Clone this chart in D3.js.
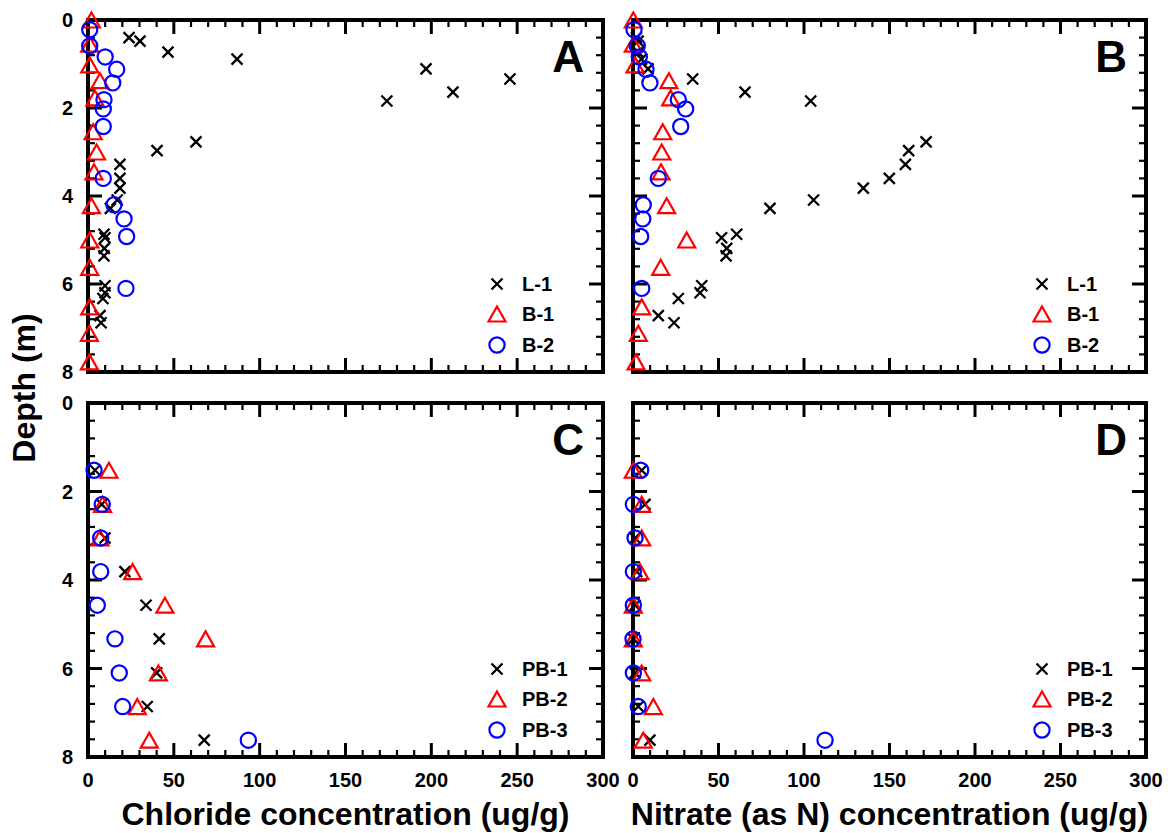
<!DOCTYPE html>
<html><head><meta charset="utf-8">
<script src="https://cdn.jsdelivr.net/npm/d3@7"></script>
<style>
body{margin:0;background:#fff}
svg{display:block}
text{font-family:"Liberation Sans",Arial,Helvetica,sans-serif;font-weight:bold;fill:#000}
</style>
</head><body>
<svg id="chart" width="1168" height="833"></svg>
<script>
// ---------- data ----------
const xTickLabels = [0, 50, 100, 150, 200, 250, 300];
const yTickLabels = [0, 2, 4, 6, 8];

// Upper panels (A: chloride, B: nitrate)
const depthL1 = [0.40,0.48,0.73,0.89,1.11,1.34,1.64,1.84,2.77,2.97,3.28,3.60,3.82,4.09,4.28,4.87,4.95,5.19,5.36,6.04,6.20,6.33,6.72,6.88];
const chlorideL1 = [23.9,30.3,46.6,86.8,196.9,245.8,212.6,174.1,62.9,40.2,18.6,18.6,18.6,17,13,9.3,9.9,9.5,9.3,9.9,9.9,8.7,7,7.6];
const nitrateL1  = [2,3,3,5,8.8,34.9,65.5,103.9,171.4,161.2,159.3,149.9,134.7,105.6,80.1,60.6,51.8,54.8,54.4,40.2,39.2,26.5,14.8,24];

const depthB1 = [0,0.55,1.02,1.38,1.77,2.54,3.0,3.45,4.22,5.0,5.62,6.52,7.12,7.77];
const chlorideB1 = [2,1,1,7,4,3,5,3.5,2,1,1,1,0.8,0.8];
const nitrateB1  = [0.2,0.2,1.2,21,22,17.4,16.8,16.4,19.7,31.4,16.2,5.1,3.1,1.8];

const depthB2 = [0.22,0.59,0.84,1.12,1.43,1.81,2.02,2.42,3.6,4.2,4.52,4.92,6.1];
const chlorideB2 = [1,1,10,16.7,14.4,9.3,8.9,8.9,8.9,15.1,21,22.5,22.1];
const nitrateB2  = [0.6,2.5,3.7,7.6,9.9,26.5,30.8,27.9,14.8,6,5.7,4.5,5.1];

// Lower panels (C: chloride, D: nitrate)
const depthPB = [1.52,2.29,3.05,3.81,4.57,5.33,6.10,6.86,7.62];
const chloridePB1 = [4.1,8,9.9,21.5,33.8,41.5,40,34.5,67.7];
const chloridePB2 = [12.2,8.5,7,26,44.8,68.5,41,28.7,35.7];
const chloridePB3 = [3.5,8.3,7.4,7.4,5.4,15.7,18.2,20.2,93.4];
const nitratePB1 = [5.1,7,1.2,2.2,1.2,0.2,1.2,3.1,9.9];
const nitratePB2 = [0.2,5.1,5.1,4.1,0.2,0.2,5.1,11.9,6];
const nitratePB3 = [4.5,0.2,1.2,0.2,0.2,0,0.2,3.1,112.3];

// ---------- styles ----------
const styles = {
  cross: {color: "#000000"},
  tri:   {color: "#ff0000"},
  circ:  {color: "#0000ff"}
};

const zip = (d, v) => d.map((dd, i) => ({depth: dd, value: v[i]}));

const panels = [
  {letter:"A", left:88,  right:603,  top:20,  bottom:372, showY:true,  showX:false,
   series:[{name:"L-1",shape:"cross",data:zip(depthL1,chlorideL1)},
           {name:"B-1",shape:"tri",data:zip(depthB1,chlorideB1)},
           {name:"B-2",shape:"circ",data:zip(depthB2,chlorideB2)}]},
  {letter:"B", left:633, right:1146, top:20,  bottom:372, showY:false, showX:false,
   series:[{name:"L-1",shape:"cross",data:zip(depthL1,nitrateL1)},
           {name:"B-1",shape:"tri",data:zip(depthB1,nitrateB1)},
           {name:"B-2",shape:"circ",data:zip(depthB2,nitrateB2)}]},
  {letter:"C", left:88,  right:603,  top:403, bottom:757, showY:true,  showX:true,
   series:[{name:"PB-1",shape:"cross",data:zip(depthPB,chloridePB1)},
           {name:"PB-2",shape:"tri",data:zip(depthPB,chloridePB2)},
           {name:"PB-3",shape:"circ",data:zip(depthPB,chloridePB3)}]},
  {letter:"D", left:633, right:1146, top:403, bottom:757, showY:false, showX:true,
   series:[{name:"PB-1",shape:"cross",data:zip(depthPB,nitratePB1)},
           {name:"PB-2",shape:"tri",data:zip(depthPB,nitratePB2)},
           {name:"PB-3",shape:"circ",data:zip(depthPB,nitratePB3)}]}
];

const svg = d3.select("#chart");

function drawMarker(g, shape, cx, cy) {
  const col = styles[shape].color;
  if (shape === "cross") {
    const h = 5.5;
    g.append("path")
      .attr("d", `M${cx-h},${cy-h}L${cx+h},${cy+h}M${cx-h},${cy+h}L${cx+h},${cy-h}`)
      .attr("stroke", col).attr("stroke-width", 2.3).attr("fill", "none");
  } else if (shape === "tri") {
    const w = 8.5, hh = 7.5;
    g.append("path")
      .attr("d", `M${cx},${cy-hh}L${cx+w},${cy+hh}L${cx-w},${cy+hh}Z`)
      .attr("stroke", col).attr("stroke-width", 2.2).attr("fill", "none")
      .attr("stroke-linejoin", "miter");
  } else {
    g.append("circle").attr("cx", cx).attr("cy", cy).attr("r", 7.6)
      .attr("stroke", col).attr("stroke-width", 2.2).attr("fill", "none");
  }
}

panels.forEach(p => {
  const x = d3.scaleLinear().domain([0, 300]).range([p.left, p.right]);
  const y = d3.scaleLinear().domain([0, 8]).range([p.top, p.bottom]);
  const g = svg.append("g");

  const majorLen = 14, minorLen = 7;
  const xMinor = d3.range(0, 301, 10);
  const yMinor = d3.range(0, 8.001, 0.4).map(v => +v.toFixed(2));

  // x ticks (top and bottom, inward)
  xMinor.forEach(v => {
    const isMajor = v % 50 === 0;
    const L = isMajor ? majorLen : minorLen;
    const sw = isMajor ? 3 : 2.2;
    g.append("line").attr("x1", x(v)).attr("x2", x(v)).attr("y1", p.bottom).attr("y2", p.bottom - L)
      .attr("stroke", "#000").attr("stroke-width", sw);
    g.append("line").attr("x1", x(v)).attr("x2", x(v)).attr("y1", p.top).attr("y2", p.top + L)
      .attr("stroke", "#000").attr("stroke-width", sw);
  });
  // y ticks (left and right, inward)
  yMinor.forEach(v => {
    const isMajor = Math.abs(v / 2 - Math.round(v / 2)) < 1e-6;
    const L = isMajor ? majorLen : minorLen;
    const sw = isMajor ? 3 : 2.2;
    g.append("line").attr("x1", p.left).attr("x2", p.left + L).attr("y1", y(v)).attr("y2", y(v))
      .attr("stroke", "#000").attr("stroke-width", sw);
    g.append("line").attr("x1", p.right).attr("x2", p.right - L).attr("y1", y(v)).attr("y2", y(v))
      .attr("stroke", "#000").attr("stroke-width", sw);
  });

  // frame
  g.append("rect").attr("x", p.left).attr("y", p.top)
    .attr("width", p.right - p.left).attr("height", p.bottom - p.top)
    .attr("fill", "none").attr("stroke", "#000").attr("stroke-width", 4);

  // tick labels
  if (p.showY) {
    yTickLabels.forEach(v => {
      g.append("text").attr("x", p.left - 15).attr("y", y(v)).attr("dy", "0.36em")
        .attr("text-anchor", "end").attr("font-size", 20).text(v);
    });
  }
  if (p.showX) {
    xTickLabels.forEach(v => {
      g.append("text").attr("x", x(v)).attr("y", p.bottom + 30)
        .attr("text-anchor", "middle").attr("font-size", 20).text(v);
    });
  }

  // data
  p.series.forEach(s => {
    s.data.forEach(d => drawMarker(g, s.shape, x(d.value), y(d.depth)));
  });

  // panel letter
  g.append("text").attr("x", p.right - 19).attr("y", p.top + 52)
    .attr("text-anchor", "end").attr("font-size", 44).text(p.letter);

  // legend
  const rowOffsets = [88, 58, 27];
  p.series.forEach((s, i) => {
    const cy = p.bottom - rowOffsets[i];
    drawMarker(g, s.shape, p.left + 409, cy);
    g.append("text").attr("x", p.left + 434).attr("y", cy + 7)
      .attr("font-size", 20).text(s.name);
  });
});

// axis titles
svg.append("text").attr("x", (88 + 603) / 2).attr("y", 825).attr("text-anchor", "middle")
  .attr("font-size", 32).text("Chloride concentration (ug/g)");
svg.append("text").attr("x", (633 + 1146) / 2).attr("y", 825).attr("text-anchor", "middle")
  .attr("font-size", 32).text("Nitrate (as N) concentration (ug/g)");
svg.append("text").attr("transform", "translate(35,388) rotate(-90)").attr("text-anchor", "middle")
  .attr("font-size", 32).text("Depth (m)");
</script>
</body></html>
